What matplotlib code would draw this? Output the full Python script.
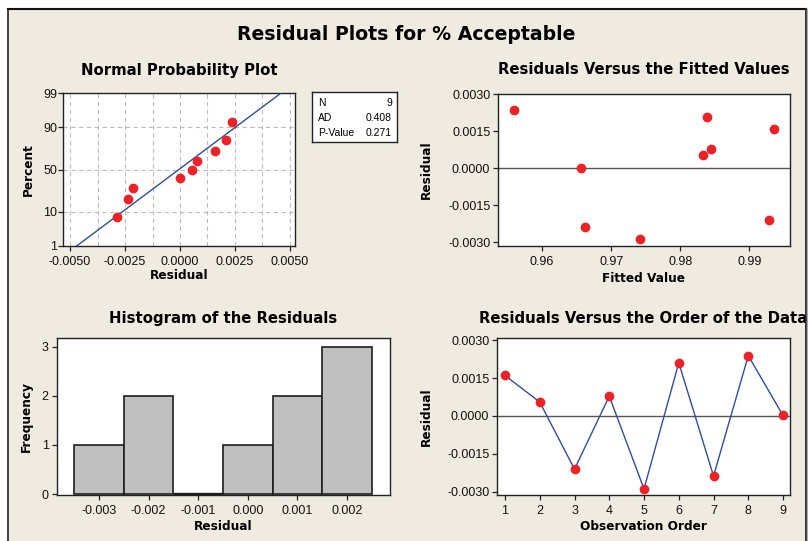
import numpy as np
import matplotlib
matplotlib.use("Agg")
import matplotlib.pyplot as plt
from matplotlib.patches import Rectangle
from matplotlib.lines import Line2D
from statistics import NormalDist

# residuals in observation order
obs_order = [1, 2, 3, 4, 5, 6, 7, 8, 9]
residuals = [0.0016, 0.00055, -0.0021, 0.00078, -0.00288, 0.0021, -0.00237, 0.00238, 0.00002]
fitted = [0.9936, 0.9833, 0.9929, 0.9845, 0.9742, 0.9839, 0.9662, 0.9559, 0.9656]

# normal probability plot
prob_resid = [-0.00288, -0.00238, -0.00212, 0.0000, 0.00053, 0.00079, 0.0016, 0.0021, 0.00236]
prob_pct = [7.4, 18.1, 28.7, 39.4, 50.0, 60.6, 71.3, 81.9, 92.6]
fit_line_x = [-0.0047, 0.0046]
fit_line_pct = [1, 99]
stats_names = ["N", "AD", "P-Value"]
stats_vals = ["9", "0.408", "0.271"]

# histogram
bin_centers = [-0.003, -0.002, -0.001, 0.000, 0.001, 0.002]
bin_counts = [1, 2, 0, 1, 2, 3]

W, H = 808, 541
BG = '#efebe1'
RED = '#ec2227'
BLUE = '#2f4da0'
TICKFONT = 'Liberation Sans'
BOLDFONT = 'DejaVu Sans'

nd = NormalDist()


def pct_to_z(p):
    p = np.clip(np.asarray(p, dtype=float), 1e-6, 100 - 1e-6)
    return np.array([nd.inv_cdf(v / 100.0) if np.isfinite(v) else np.nan
                     for v in p.ravel()]).reshape(p.shape)


def z_to_pct(z):
    z = np.asarray(z, dtype=float)
    return np.array([nd.cdf(v) * 100.0 if np.isfinite(v) else np.nan
                     for v in z.ravel()]).reshape(z.shape)


def px_axes(fig, l, t, r, b):
    return fig.add_axes([l / W, 1 - b / H, (r - l) / W, (b - t) / H])


def style_axes(ax, xpad=4, ypad=2):
    for s in ax.spines.values():
        s.set_color('#222222')
        s.set_linewidth(1.0)
    ax.tick_params(which='major', direction='out', length=3.5, width=0.9,
                   color='#222222', labelsize=9, labelcolor='#111111')
    ax.tick_params(axis='x', pad=xpad)
    ax.tick_params(axis='y', pad=ypad)
    for lab in ax.get_xticklabels() + ax.get_yticklabels():
        lab.set_fontfamily(TICKFONT)


def titles(ax, title, xlabel, ylabel, pad, xl_y, yl_x):
    ax.set_title(title, fontsize=10.7, fontweight='bold', family=BOLDFONT, pad=pad)
    ax.set_xlabel(xlabel, fontsize=8.7, fontweight='bold', family=BOLDFONT, va='center')
    ax.set_ylabel(ylabel, fontsize=8.7, fontweight='bold', family=BOLDFONT, va='center')
    ax.xaxis.set_label_coords(0.5, xl_y)
    ax.yaxis.set_label_coords(yl_x, 0.5)


fig = plt.figure(figsize=(W / 100, H / 100), dpi=100)
fig.patch.set_facecolor('white')
fig.add_artist(Rectangle((8 / W, -0.01), (806 - 8) / W, 1.01 - 9 / H,
                         transform=fig.transFigure, facecolor=BG,
                         edgecolor='none', zorder=-10))

fig.text(406.5 / W, 1 - 34 / H, 'Residual Plots for % Acceptable',
         ha='center', va='center', fontsize=13.6, fontweight='bold', family=BOLDFONT)

# --- Normal probability plot
ax1 = px_axes(fig, 63, 93, 295, 246)
ax1.set_yscale('function', functions=(pct_to_z, z_to_pct))
ax1.set_xlim(-0.00532, 0.00523)
ax1.set_ylim(1, 99)
xt = [-0.005, -0.0025, 0.0, 0.0025, 0.005]
ax1.set_xticks(xt)
ax1.set_xticklabels(['-0.0050', '-0.0025', '0.0000', '0.0025', '0.0050'])
ax1.set_xticks([-0.00375, -0.00125, 0.00125, 0.00375], minor=True)
ax1.set_yticks([1, 10, 50, 90, 99])
ax1.set_yticklabels(['1', '10', '50', '90', '99'])
ax1.yaxis.set_minor_locator(matplotlib.ticker.NullLocator())
ax1.tick_params(which='minor', length=0)
ax1.grid(True, which='both', axis='x', color='#bdbdbd', linestyle=(0, (4, 3)), linewidth=0.8)
ax1.grid(True, which='major', axis='y', color='#bdbdbd', linestyle=(0, (4, 3)), linewidth=0.8)
ax1.set_axisbelow(True)
ax1.plot(fit_line_x, fit_line_pct, color=BLUE, lw=1.0, zorder=3)
ax1.plot(prob_resid, prob_pct, 'o', color=RED, ms=6, mec=RED, zorder=4)
style_axes(ax1, xpad=4, ypad=0.5)
titles(ax1, 'Normal Probability Plot', 'Residual', 'Percent', 13, -0.196, -0.151)

# stats box
axs = px_axes(fig, 312, 92, 397, 142)
axs.set_xticks([])
axs.set_yticks([])
for s in axs.spines.values():
    s.set_color('#222222')
    s.set_linewidth(1.0)
for i, (nm, v) in enumerate(zip(stats_names, stats_vals)):
    yy = [0.78, 0.48, 0.19][i]
    axs.text(0.07, yy, nm, ha='left', va='center', fontsize=7.5, family=TICKFONT)
    axs.text(0.94, yy, v, ha='right', va='center', fontsize=7.5, family=TICKFONT)

# --- Residuals vs fitted
ax2 = px_axes(fig, 498, 94, 790, 246)
ax2.set_xlim(0.9536, 0.9959)
ax2.set_ylim(-0.00316, 0.00302)
ax2.axhline(0, color='#555555', lw=1.0, zorder=2)
ax2.plot(fitted, residuals, 'o', color=RED, ms=6, mec=RED, zorder=4)
ax2.set_xticks([0.96, 0.97, 0.98, 0.99])
ax2.set_xticklabels(['0.96', '0.97', '0.98', '0.99'])
ax2.set_yticks([-0.003, -0.0015, 0.0, 0.0015, 0.003])
ax2.set_yticklabels(['-0.0030', '-0.0015', '0.0000', '0.0015', '0.0030'])
style_axes(ax2, xpad=4, ypad=2)
titles(ax2, 'Residuals Versus the Fitted Values', 'Fitted Value', 'Residual', 14.4, -0.2125, -0.244)

# --- Histogram
ax3 = px_axes(fig, 57, 338, 390, 495)
bars = ax3.bar(bin_centers, bin_counts, width=0.001, color='#c0c0c0', edgecolor='#1e1e1e',
               linewidth=1.2, zorder=3)
# an empty bin shows up as a heavy line on the baseline
for b, c in zip(bars, bin_counts):
    if c == 0:
        b.set_linewidth(2.4)
ax3.set_xlim(-0.00385, 0.00287)
ax3.set_ylim(-0.02, 3.18)
ax3.set_xticks(bin_centers)
ax3.set_xticklabels(['-0.003', '-0.002', '-0.001', '0.000', '0.001', '0.002'])
ax3.set_yticks([0, 1, 2, 3])
ax3.set_yticklabels(['0', '1', '2', '3'])
style_axes(ax3, xpad=4, ypad=2.5)
titles(ax3, 'Histogram of the Residuals', 'Residual', 'Frequency', 11, -0.202, -0.091)

# --- Residuals vs order
ax4 = px_axes(fig, 497, 338, 790, 495)
ax4.set_xlim(0.77, 9.2)
ax4.set_ylim(-0.00312, 0.00308)
ax4.axhline(0, color='#555555', lw=1.0, zorder=2)
ax4.plot(obs_order, residuals, '-', color=BLUE, lw=1.0, zorder=3)
ax4.plot(obs_order, residuals, 'o', color=RED, ms=6, mec=RED, zorder=4)
ax4.set_xticks(obs_order)
ax4.set_xticklabels([str(o) for o in obs_order])
ax4.set_yticks([-0.003, -0.0015, 0.0, 0.0015, 0.003])
ax4.set_yticklabels(['-0.0030', '-0.0015', '0.0000', '0.0015', '0.0030'])
style_axes(ax4, xpad=4, ypad=2)
titles(ax4, 'Residuals Versus the Order of the Data', 'Observation Order', 'Residual', 11, -0.202, -0.24)

# frame: white strip past the right edge (clips the last title) and the border lines
fig.add_artist(Rectangle((806.5 / W, 0), 1 - 806.5 / W, 1, transform=fig.transFigure,
                         facecolor='white', edgecolor='none', zorder=20))
fig.add_artist(Line2D([8 / W, 8 / W], [0, 1 - 9 / H], transform=fig.transFigure,
                      color='#333333', lw=1.3, zorder=21))
fig.add_artist(Line2D([8 / W, 806 / W], [1 - 9 / H, 1 - 9 / H], transform=fig.transFigure,
                      color='#111111', lw=1.5, zorder=21))
fig.add_artist(Line2D([806 / W, 806 / W], [0, 1 - 9 / H], transform=fig.transFigure,
                      color='#222222', lw=1.3, zorder=21))
fig.add_artist(Line2D([807.3 / W, 807.3 / W], [0, 1 - 9 / H], transform=fig.transFigure,
                      color='#aaaaaa', lw=1.0, zorder=21))

fig.savefig('out.png', dpi=100, facecolor=fig.get_facecolor())
